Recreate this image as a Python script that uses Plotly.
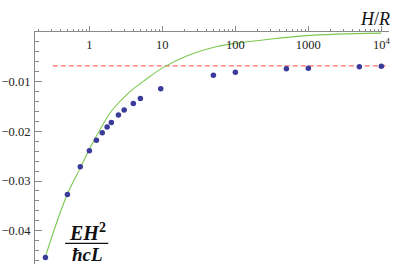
import plotly.graph_objects as go

# data
pts_x = [0.25, 0.5, 0.75, 1, 1.25, 1.5, 1.75, 2, 2.5, 3, 4, 5, 9.5, 50, 100, 500, 1000, 5000, 10000]
pts_y = [-0.0454, -0.0327, -0.0271, -0.0239, -0.0218, -0.0203, -0.0191, -0.0182, -0.0167,
         -0.0157, -0.0144, -0.0134, -0.0114, -0.0087, -0.0081, -0.0074, -0.0073, -0.0070, -0.0069]

fit_x = [0.25, 0.35, 0.5, 0.76, 1.04, 1.22, 1.67, 2.06, 3.48, 5.88, 9.94, 20.7, 56.1,
         105, 300, 855, 2440, 10000]
fit_y = [-0.0452, -0.0387, -0.0326, -0.0272, -0.0231, -0.0212, -0.0177, -0.0157, -0.0122,
         -0.0096, -0.00727, -0.00493, -0.00292, -0.00223, -0.00143, -0.00077, -0.00042, -0.00022]

ref_x = [0.315, 13000]
ref_y = [-0.0068, -0.0068]

x_tickvals = [1, 10, 100, 1000, 10000]
x_ticktext = ["1", "10", "100", "1000", "10<sup>4</sup>"]
y_tickvals = [-0.04, -0.03, -0.02, -0.01]
y_ticktext = ["\u22120.04", "\u22120.03", "\u22120.02", "\u22120.01"]

serif = "Liberation Serif"
axis_col = "#8a8a8a"

fig = go.Figure()
fig.add_trace(go.Scatter(x=ref_x, y=ref_y, mode="lines",
                         line=dict(color="#ff6b6b", width=1.3, dash="5px,3px"),
                         hoverinfo="skip", showlegend=False))
fig.add_trace(go.Scatter(x=fit_x, y=fit_y, mode="lines",
                         line=dict(color="#7cc850", width=1.1, shape="spline", smoothing=1.0),
                         hoverinfo="skip", showlegend=False))
fig.add_trace(go.Scatter(x=pts_x, y=pts_y, mode="markers",
                         marker=dict(color="#3b3b9c", size=5.5),
                         showlegend=False))

fig.update_layout(
    width=416, height=264,
    margin=dict(l=35, r=27, t=32, b=0),
    paper_bgcolor="white", plot_bgcolor="white",
    font=dict(family=serif, size=12, color="#222222"),
    xaxis=dict(type="log", range=[-0.745, 4.105], side="top", automargin=False,
               showline=True, linecolor=axis_col, linewidth=1,
               showgrid=False, zeroline=False,
               tickvals=x_tickvals, ticktext=x_ticktext,
               ticks="outside", ticklen=5, tickcolor=axis_col,
               ticklabelposition="inside", ticklabelstandoff=8,
               ticklabeloverflow="allow",
               minor=dict(ticks="outside", ticklen=2.5, tickcolor=axis_col, dtick="D1", showgrid=False),
               tickfont=dict(family=serif, size=12.5, color="#222222")),
    yaxis=dict(range=[-0.0467, 0], automargin=False,
               showline=True, linecolor=axis_col, linewidth=1,
               showgrid=False, zeroline=False,
               tickvals=y_tickvals, ticktext=y_ticktext,
               ticks="inside", ticklen=7, tickcolor=axis_col,
               ticklabelstandoff=1,
               minor=dict(ticks="inside", ticklen=4, tickcolor=axis_col, dtick=0.002, showgrid=False),
               tickfont=dict(family=serif, size=12.5, color="#222222")),
    annotations=[
        dict(text="<i>H</i>/<i>R</i>", xref="paper", yref="paper", x=1.008, y=1.054,
             xanchor="right", yanchor="middle", showarrow=False,
             font=dict(family=serif, size=18, color="#111111")),
        dict(text="<b><i>EH</i></b><sup><b>2</b></sup>", xref="paper", yref="paper",
             x=0.147, y=0.14, xanchor="center", yanchor="middle", showarrow=False,
             font=dict(family=serif, size=20, color="#111111")),
        dict(text="<b><i>\u0127cL</i></b>", xref="paper", yref="paper",
             x=0.147, y=0.042, xanchor="center", yanchor="middle", showarrow=False,
             font=dict(family=serif, size=19, color="#111111")),
    ],
    shapes=[dict(type="line", xref="paper", yref="paper", x0=0.085, x1=0.207,
                 y0=0.089, y1=0.089, line=dict(color="#111111", width=1.2))],
)

fig.write_html("out.html", config={"displayModeBar": False},
               post_script="document.body.style.margin='0';")
